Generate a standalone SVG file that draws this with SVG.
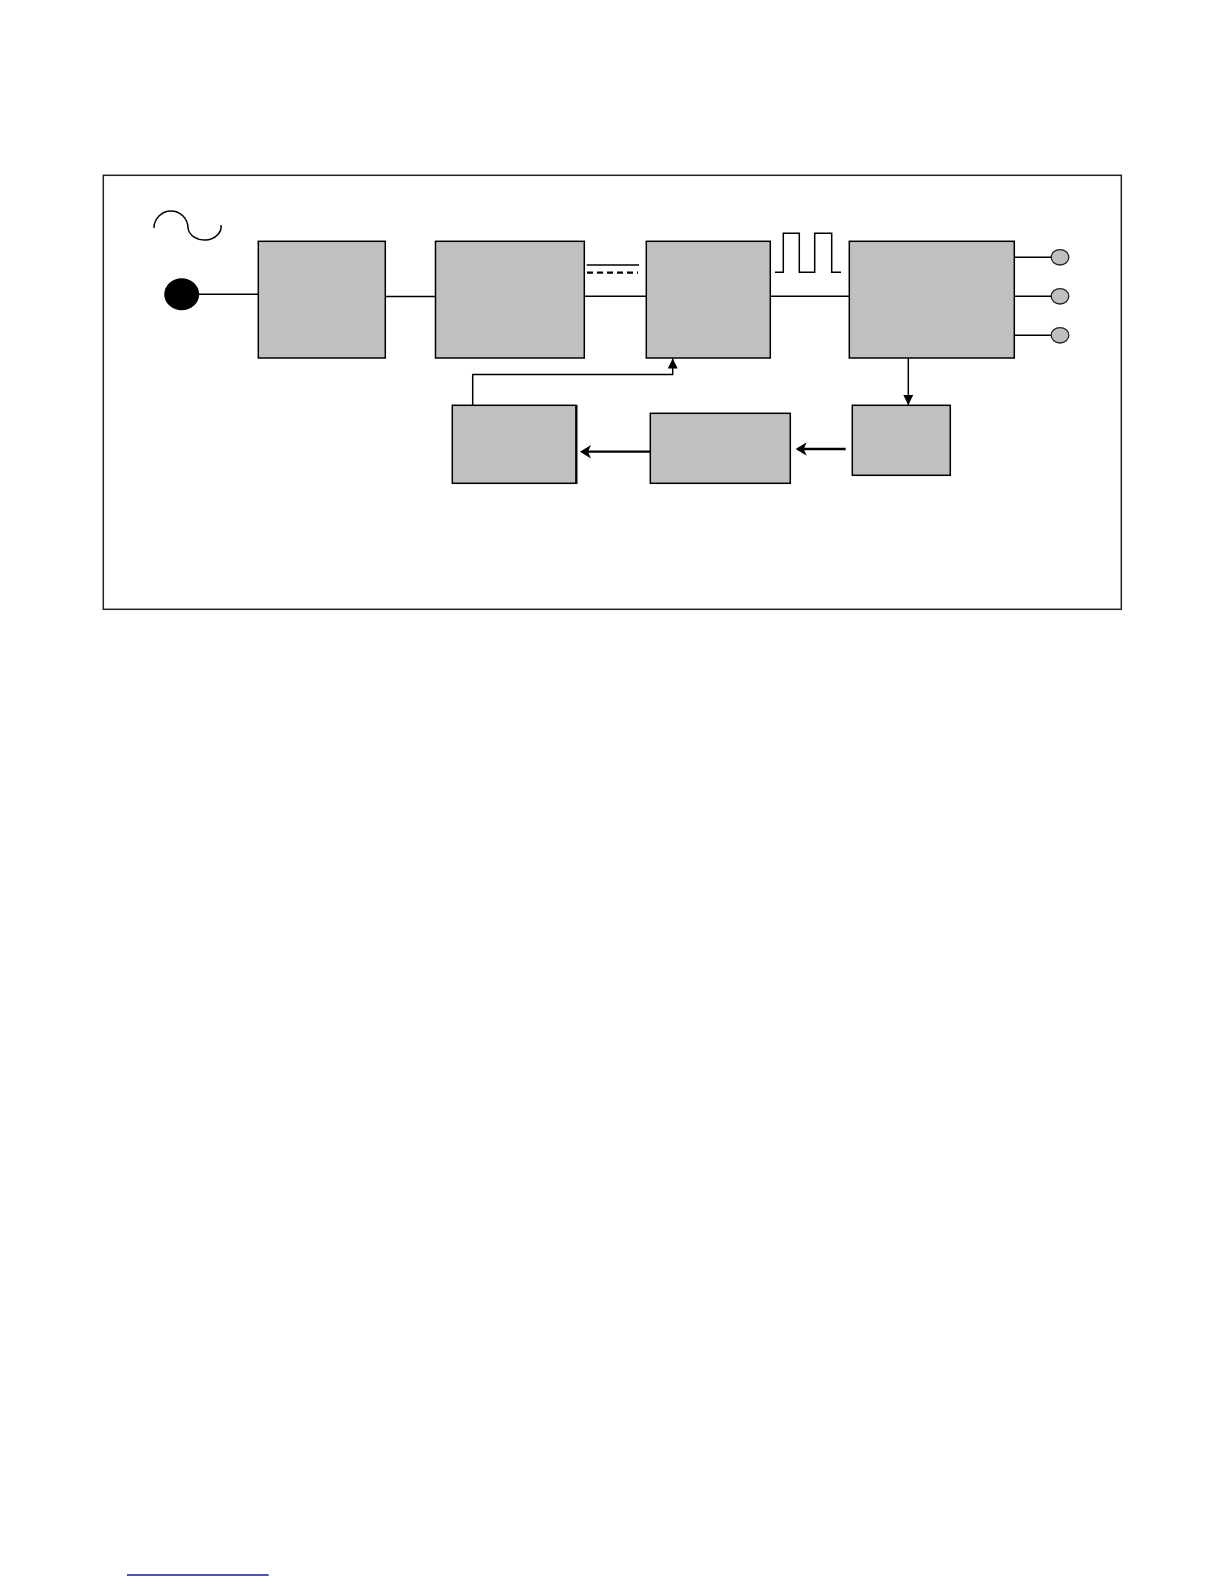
<svg xmlns="http://www.w3.org/2000/svg" width="1224" height="1584" viewBox="0 0 1224 1584">
<style>
.box{fill:#c0c0c0;stroke:#000;stroke-width:1.5}
.ln{fill:none;stroke:#000;stroke-width:1.5}
.thick{fill:none;stroke:#000;stroke-width:2.3}
.term{fill:#c0c0c0;stroke:#222;stroke-width:1.3}
</style>
<defs>
<marker id="tri" viewBox="0 0 10 10" refX="10" refY="5" markerWidth="10" markerHeight="10" markerUnits="userSpaceOnUse" orient="auto">
<path d="M0,0 L10,5 L0,10 z" fill="#000"/>
</marker>
<marker id="notch" viewBox="0 0 12 14" refX="0" refY="7" markerWidth="12" markerHeight="14" markerUnits="userSpaceOnUse" orient="auto-start-reverse">
<path d="M0,7 L11,0 L8,7 L11,14 z" fill="#000"/>
</marker>
</defs>
<rect width="1224" height="1584" fill="#fff"/>
<rect x="103.3" y="175.3" width="1018" height="434" fill="none" stroke="#222" stroke-width="1.5"/>
<g id="source">
<path d="M154,228 A17,17 0 0 1 188,228 A16.5,13.5 0 0 0 221,225" class="ln"/>
<ellipse cx="181.7" cy="294.3" rx="17.5" ry="16" fill="#000"/>
</g>
<g id="box1"><rect class="box" x="258.3" y="241.3" width="127" height="116.7"/></g>
<g id="box2"><rect class="box" x="435.5" y="241.3" width="148.8" height="116.7"/></g>
<g id="box3"><rect class="box" x="646.3" y="241.3" width="124" height="116.7"/></g>
<g id="box4"><rect class="box" x="849.3" y="241.3" width="165" height="116.7"/></g>
<g id="box5"><rect class="box" x="852.3" y="405.3" width="98" height="70"/></g>
<g id="box6"><rect class="box" x="452.3" y="405.3" width="123.7" height="78"/><line x1="576.5" y1="405" x2="576.5" y2="484" stroke="#000" stroke-width="2"/></g>
<g id="box7"><rect class="box" x="650.3" y="413.3" width="140" height="70"/></g>
<g id="dc-symbol">
<line class="ln" x1="586.7" y1="265" x2="639" y2="265"/>
<line x1="587" y1="272.7" x2="638" y2="272.7" stroke="#000" stroke-width="2.2" stroke-dasharray="6,4"/>
</g>
<g id="pulse">
<path class="ln" d="M775,272.3 H783.3 V233.3 H799.3 V272.3 H814.7 V233.3 H831.7 V272.3 H841"/>
</g>
<g id="terminals">
<ellipse class="term" cx="1060" cy="257.3" rx="8.8" ry="7.7"/>
<ellipse class="term" cx="1060" cy="296.3" rx="8.8" ry="7.7"/>
<ellipse class="term" cx="1060" cy="335.3" rx="8.8" ry="7.7"/>
</g>
<g id="connectors">
<line class="ln" x1="198" y1="294.3" x2="258.3" y2="294.3"/>
<line class="ln" x1="385.3" y1="296.5" x2="435.5" y2="296.5"/>
<line class="ln" x1="584.3" y1="296.3" x2="646.3" y2="296.3"/>
<line class="ln" x1="770.3" y1="296.3" x2="849.3" y2="296.3"/>
<line class="ln" x1="1014.3" y1="257.3" x2="1051.3" y2="257.3"/>
<line class="ln" x1="1014.3" y1="296.3" x2="1051.3" y2="296.3"/>
<line class="ln" x1="1014.3" y1="335.3" x2="1051.3" y2="335.3"/>
<line class="ln" x1="908.3" y1="358" x2="908.3" y2="405" marker-end="url(#tri)"/>
<path class="ln" d="M472.7,405.3 V374.5 H672.7 V358.5" marker-end="url(#tri)"/>
<line class="thick" x1="845.7" y1="449" x2="798" y2="449"/>
<path d="M795.7,449 L806.7,442.3 L803.7,449 L806.7,455.7 z" fill="#000"/>
<line class="thick" x1="650.3" y1="451.7" x2="582" y2="451.7"/>
<path d="M580,451.7 L591,445 L588,451.7 L591,458.4 z" fill="#000"/>
</g>
<line x1="127" y1="1575" x2="268.7" y2="1575" stroke="#1a1a9a" stroke-width="1.3"/>
</svg>
